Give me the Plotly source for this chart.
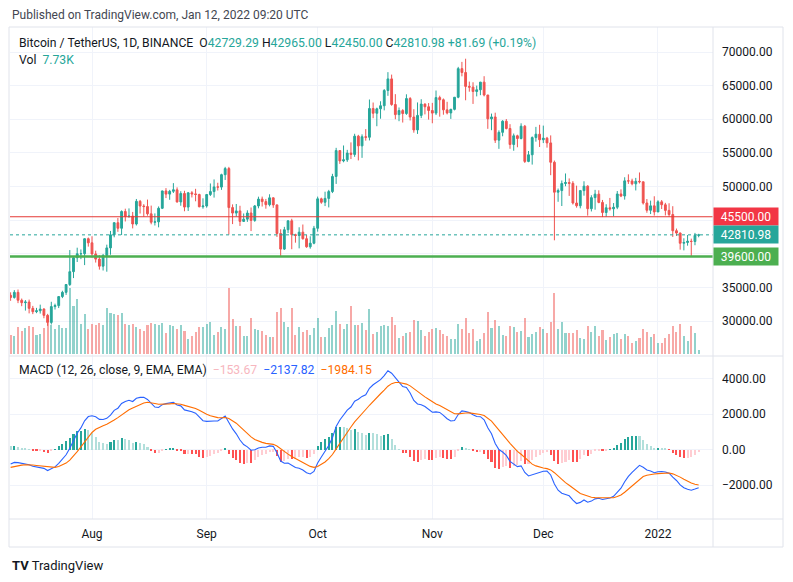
import pandas as pd
import plotly.graph_objects as go

# BTC/USDT daily candles, Binance, 10 Jul 2021 - 12 Jan 2022
start_date = "2021-07-10"
first_open = 33815.0

close = [
    # Jul 10-31
    33502, 34259, 33086, 32729, 32820, 31880, 31383, 31520, 31778, 30839, 29790,
    32144, 32287, 33634, 34258, 35426, 37337, 39406, 39995, 40008, 42235, 41626,
    # Aug
    39974, 39201, 38152, 39747, 40870, 42816, 44614, 43792, 46284, 45543,
    45595, 44428, 47793, 47097, 47019, 45937, 44687, 44742, 46763, 49340,
    48867, 49285, 49507, 47707, 48960, 46942, 49058, 48903, 48812, 46991, 47100,
    # Sep
    48811, 49247, 49940, 49914, 51757, 52663, 46864, 46049, 46369, 44814,
    45144, 46059, 44958, 47108, 48125, 47753, 47300, 48314, 47261, 43013,
    40694, 43574, 44896, 42840, 42716, 43208, 42236, 41034, 41564, 43791,
    # Oct
    48165, 47657, 48233, 49245, 51493, 55340, 53805, 53967, 54968, 54771,
    57484, 56041, 57401, 57321, 61593, 60892, 61553, 62009, 64280, 66001,
    62193, 60688, 61287, 60852, 63078, 60328, 58413, 60575, 62254, 61859, 61300,
    # Nov
    60911, 63219, 62896, 61395, 60937, 61470, 63273, 67525, 66947, 64882,
    64774, 64122, 64380, 65519, 63606, 60058, 60344, 56891, 58052, 59707,
    58622, 56247, 57541, 57138, 58960, 53726, 54721, 57274, 57776, 56950,
    # Dec
    57184, 56480, 53601, 49152, 49397, 50441, 50588, 50471, 47545, 47140,
    49389, 50053, 46702, 48343, 48864, 47632, 46131, 46834, 46681, 46914,
    48889, 48588, 50838, 50820, 50399, 50775, 50701, 47543, 46464, 47120, 46216,
    # Jan 1-12
    47722, 47286, 46446, 45833, 43425, 43082, 41566, 41679, 41864, 41822,
    42729.29, 42810.98,
]

high = [
    34262, 34590, 34678, 33340, 33114, 33185, 32249, 31950, 32435, 31899, 31063,
    32859, 32576, 33650, 34500, 35450, 40550, 39542, 40900, 40640, 42316, 42414,
    42599, 40459, 39780, 39969, 41350, 43392, 44700, 45310, 46454, 46700,
    46743, 46218, 48144, 48000, 47372, 48053, 47160, 46000, 47033, 49382,
    49757, 49500, 50500, 49868, 49300, 49365, 49185, 49309, 49655, 48925, 48246,
    48888, 50450, 51052, 50558, 51900, 52920, 52920, 47340, 47400, 47133,
    45987, 46460, 46876, 47250, 48486, 48500, 48150, 48843, 48372, 47328,
    43639, 44000, 44978, 45200, 42970, 43937, 44350, 42788, 42599, 44141,
    48495, 48336, 49228, 49500, 51886, 55750, 55332, 56100, 55450, 56561,
    57839, 57680, 57751, 58532, 62933, 62488, 61720, 62675, 64486, 67000,
    66639, 63732, 61750, 61500, 63710, 63293, 61496, 62499, 62980, 62359, 62405,
    62437, 64270, 63500, 63086, 62595, 61560, 63286, 67789, 68530, 69000,
    65600, 65500, 65000, 65550, 66401, 63617, 60840, 60976, 58351, 59859,
    60029, 59266, 57875, 57700, 59398, 59150, 55280, 57445, 58865, 59176,
    59053, 57375, 57600, 53859, 49699, 50891, 51936, 51200, 50796, 50125,
    49485, 50777, 50189, 48700, 49500, 49436, 48000, 47360, 48300, 47537,
    49328, 49576, 51375, 51810, 51156, 51280, 52088, 50704, 48139, 47900, 48548,
    47954, 47990, 47570, 47505, 47070, 43748, 43145, 42300, 42786, 42248,
    43100, 42965,
]

low = [
    33004, 33330, 32658, 32202, 31550, 31133, 31020, 31164, 31108, 30407, 29278,
    29482, 31708, 31924, 33401, 33881, 35205, 36383, 38772, 39200, 38313, 41064,
    39422, 38690, 37642, 37508, 37332, 39853, 42446, 43261, 42779, 44800,
    45341, 43770, 44203, 45979, 45500, 45660, 44376, 44203, 43927, 46646,
    48279, 48024, 49029, 47600, 47137, 46315, 46361, 48372, 47801, 46904, 46700,
    46853, 48584, 48350, 49400, 49500, 50969, 42843, 44412, 45514, 44135,
    44722, 44742, 43370, 44750, 46753, 47020, 46699, 47049, 46829, 42500,
    39600, 40565, 43069, 40675, 41646, 40803, 42098, 40888, 40753, 41410,
    43283, 47430, 47088, 46891, 49022, 50382, 53357, 53600, 53660, 54080,
    54415, 53879, 54258, 56818, 56850, 60150, 58963, 60077, 61322, 63481,
    62000, 60000, 59712, 59510, 60650, 59817, 58000, 57820, 60174, 60723, 59945,
    59405, 60624, 60382, 60677, 60721, 60050, 61322, 63125, 66382, 62822,
    64100, 62278, 63400, 63576, 63400, 58574, 58373, 56474, 55600, 57469,
    58486, 55610, 55317, 55837, 57000, 53500, 53610, 53256, 56666, 55875,
    56458, 55777, 51680, 42000, 47727, 47100, 50039, 48600, 47320, 46852,
    46751, 48638, 45672, 46290, 46547, 47511, 45456, 45500, 46406, 45558,
    46630, 48421, 48049, 50384, 50171, 49412, 50449, 47313, 46096, 45900, 45678,
    46208, 46654, 45696, 45502, 42500, 42645, 40610, 40501, 41200, 39650,
    41268, 42450,
]

# volume in thousands of BTC
volume_k = [
    43.7, 40.6, 61.4, 52.9, 59.1, 63.7, 62.1, 42.2, 45.3, 59.1, 69.8,
    66.7, 56.0, 65.2, 59.1, 59.1, 151.9, 109.7, 126.6, 69.0, 91.3, 57.5,
    68.3, 65.2, 70.6, 66.7, 105.1, 93.6, 90.5, 88.2, 93.6, 68.3,
    65.2, 68.3, 62.1, 56.8, 52.9, 66.7, 71.3, 68.3, 66.7, 70.6,
    47.6, 66.7, 64.4, 57.5, 65.2, 51.4, 33.7, 40.6, 49.9, 61.4, 62.1,
    68.3, 72.9, 43.7, 49.9, 62.1, 57.5, 151.0, 79.0, 63.7, 63.7,
    39.9, 40.6, 82.1, 56.8, 54.5, 51.4, 43.7, 38.4, 38.4, 95.9,
    105.1, 72.9, 61.4, 105.1, 43.7, 61.4, 49.9, 54.5, 43.7, 59.1,
    82.1, 38.4, 38.4, 59.1, 66.7, 98.2, 68.3, 56.8, 68.3, 109.7,
    66.7, 66.7, 70.6, 54.5, 102.8, 45.3, 49.9, 64.4, 66.0, 63.7,
    85.1, 66.7, 36.0, 40.6, 47.6, 49.9, 77.5, 75.9, 54.5, 40.6, 49.9,
    56.0, 59.1, 54.5, 45.3, 40.6, 33.7, 33.7, 68.3, 56.8, 82.1,
    47.6, 56.8, 29.1, 33.7, 47.6, 95.9, 59.1, 77.5, 63.7, 43.7,
    40.6, 63.7, 61.4, 49.9, 52.2, 82.1, 38.4, 45.3, 49.9, 61.4,
    56.8, 47.6, 72.9, 139.6, 56.8, 72.9, 47.6, 47.6, 47.6, 54.5,
    36.0, 33.7, 63.7, 49.9, 63.7, 40.6, 54.5, 31.4, 38.4, 45.3,
    47.6, 33.7, 45.3, 40.6, 24.5, 29.1, 36.0, 56.8, 49.9, 38.4, 45.3,
    24.5, 24.5, 36.0, 45.3, 63.7, 49.9, 68.3, 40.6, 29.1, 63.7,
    47.6, 7.73,
]

# horizontal levels drawn on the chart
resistance = 45500.0
support = 39600.0
last_price = 42810.98

# MACD(12, 26, 9) state just before the first candle (estimated from left edge)
ema12_seed = 33950.0
ema26_seed = 34780.0
signal_seed = -1045.0

month_ticks = ["2021-08-01", "2021-09-01", "2021-10-01", "2021-11-01", "2021-12-01", "2022-01-01"]
month_labels = ["Aug", "Sep", "Oct", "Nov", "Dec", "2022"]
price_ticks = [30000, 35000, 40000, 45000, 50000, 55000, 60000, 65000, 70000]
price_labels = ["30000.00", "35000.00", "", "", "50000.00", "55000.00", "60000.00", "65000.00", "70000.00"]
macd_ticks = [-2000, 0, 2000, 4000]
macd_labels = ["\u22122000.00", "0.00", "2000.00", "4000.00"]

UP = "#26a69a"
DOWN = "#ef5350"
TEXT = "#131722"
GRID = "#f0f3fa"
BORDER = "#e0e3eb"

days = pd.date_range(start_date, periods=len(close), freq="D")
opens = [first_open] + close[:-1]

# macd from closes
a12, a26, a9 = 2 / 13, 2 / 27, 2 / 10
e12, e26, sig = ema12_seed, ema26_seed, signal_seed
macd, signal = [], []
for c in close:
    e12 += a12 * (c - e12)
    e26 += a26 * (c - e26)
    m = e12 - e26
    sig += a9 * (m - sig)
    macd.append(m)
    signal.append(sig)
hist = [m - s for m, s in zip(macd, signal)]

hist_colors = []
prev = hist[0]
for h in hist:
    if h >= 0:
        hist_colors.append("#26a69a" if h > prev else "#b2dfdb")
    else:
        hist_colors.append("#ffcdd2" if h > prev else "#ff5252")
    prev = h

vol_colors = ["rgba(38,166,154,0.5)" if c >= o else "rgba(239,83,80,0.5)" for o, c in zip(opens, close)]

# page geometry (pixels)
W, H = 793, 582
L, R, T, B = 10, 80, 27, 63
PW, PH = W - L - R, H - T - B


def px(x):
    return (x - L) / PW


def py(y):
    return (H - B - y) / PH


split = py(356)
day_ms = 86400000

fig = go.Figure()

fig.add_trace(go.Bar(
    x=days, y=volume_k, marker=dict(color=vol_colors, line=dict(width=0)),
    width=0.55 * day_ms, xaxis="x", yaxis="y", hoverinfo="skip",
))

fig.add_trace(go.Candlestick(
    x=days, open=opens, high=high, low=low, close=close,
    increasing=dict(line=dict(color=UP, width=1), fillcolor=UP),
    decreasing=dict(line=dict(color=DOWN, width=1), fillcolor=DOWN),
    whiskerwidth=0, xaxis="x", yaxis="y3",
))

fig.add_trace(go.Bar(
    x=days, y=hist, marker=dict(color=hist_colors, line=dict(width=0)),
    width=0.55 * day_ms, xaxis="x2", yaxis="y2", hoverinfo="skip",
))
fig.add_trace(go.Scatter(
    x=days, y=macd, mode="lines", line=dict(color="#2962ff", width=1.1),
    xaxis="x2", yaxis="y2",
))
fig.add_trace(go.Scatter(
    x=days, y=signal, mode="lines", line=dict(color="#ff6d00", width=1.1),
    xaxis="x2", yaxis="y2",
))

x_range = ["2021-07-09 20:00", "2022-01-15 21:00"]
shapes = [
    # level lines
    dict(type="line", xref="paper", yref="y3", x0=0, x1=1, y0=resistance, y1=resistance,
         line=dict(color="#e53935", width=1)),
    dict(type="line", xref="paper", yref="y3", x0=0, x1=1, y0=support, y1=support,
         line=dict(color="#4caf50", width=2.5)),
    dict(type="line", xref="paper", yref="y3", x0=0, x1=1, y0=last_price, y1=last_price,
         line=dict(color=UP, width=1, dash="dot")),
    # frame and separators
    dict(type="rect", xref="paper", yref="paper", x0=px(9), x1=px(783), y0=py(547), y1=py(27),
         line=dict(color=BORDER, width=1)),
    dict(type="line", xref="paper", yref="paper", x0=1, x1=1, y0=py(547), y1=py(27),
         line=dict(color=BORDER, width=1)),
    dict(type="line", xref="paper", yref="paper", x0=px(9), x1=px(783), y0=split, y1=split,
         line=dict(color=BORDER, width=1)),
    dict(type="line", xref="paper", yref="paper", x0=px(9), x1=px(783), y0=0, y1=0,
         line=dict(color=BORDER, width=1)),
]

teal = "<span style='color:#26a69a'>%s</span>"
header = ("Bitcoin / TetherUS, 1D, BINANCE&nbsp;&nbsp;O" + teal % "42729.29"
          + " H" + teal % "42965.00" + " L" + teal % "42450.00"
          + " C" + teal % "42810.98" + " " + teal % "+81.69 (+0.19%)")
macd_header = ("MACD (12, 26, close, 9, EMA, EMA)&nbsp;&nbsp;"
               "<span style='color:#f7b6be'>\u2212153.67</span>&nbsp;&nbsp;"
               "<span style='color:#2962ff'>\u22122137.82</span>&nbsp;&nbsp;"
               "<span style='color:#ff6d00'>\u22121984.15</span>")

annotations = [
    dict(text="Published on TradingView.com, Jan 12, 2022 09:20 UTC", x=px(10), y=py(15),
         font=dict(size=12, color="#434651")),
    dict(text=header, x=px(17), y=py(43), font=dict(size=12.2, color=TEXT)),
    dict(text="Vol&nbsp;&nbsp;" + teal % "7.73K", x=px(17), y=py(60), font=dict(size=12.2, color=TEXT)),
    dict(text=macd_header, x=px(17), y=py(370), font=dict(size=12.2, color=TEXT)),
    dict(text="<b>TV</b> TradingView", x=px(10), y=py(565), font=dict(size=13, color=TEXT)),
]
for val, col in [(resistance, "#f23645"), (last_price, "#26a69a"), (support, "#4caf50")]:
    annotations.append(dict(
        text="%.2f" % val, xref="paper", yref="y3", x=1, y=val, xanchor="left", yanchor="middle",
        showarrow=False, bgcolor=col, font=dict(size=12, color="white"), width=62, height=15,
        borderpad=1, align="center",
    ))
for a in annotations:
    a.setdefault("xref", "paper")
    a.setdefault("yref", "paper")
    a.setdefault("xanchor", "left")
    a.setdefault("yanchor", "middle")
    a.setdefault("showarrow", False)

fig.update_layout(
    width=W, height=H,
    margin=dict(l=L, r=R, t=T, b=B),
    paper_bgcolor="white", plot_bgcolor="white",
    font=dict(family="Roboto, 'Liberation Sans', sans-serif", size=12, color=TEXT),
    showlegend=False,
    bargap=0,
    xaxis=dict(
        domain=[0, 1], anchor="y", type="date", range=x_range, matches="x2",
        tickvals=month_ticks, showticklabels=False, showgrid=True, gridcolor=GRID,
        zeroline=False, rangeslider=dict(visible=False), showline=False,
    ),
    yaxis=dict(domain=[split, 1], range=[-5.3, 751.4], visible=False, fixedrange=True),
    yaxis3=dict(
        overlaying="y", side="right", anchor="x", range=[24796, 73717],
        tickvals=price_ticks, ticktext=price_labels, showgrid=True, gridcolor=GRID,
        zeroline=False, ticks="", ticklabelstandoff=8, tickfont=dict(size=12, color=TEXT),
    ),
    xaxis2=dict(
        domain=[0, 1], anchor="y2", type="date", range=x_range,
        tickvals=month_ticks, ticktext=month_labels, showgrid=True, gridcolor=GRID,
        zeroline=False, ticks="", ticklabelstandoff=6, tickfont=dict(size=12, color=TEXT),
        showline=False,
    ),
    yaxis2=dict(
        domain=[0, split], anchor="x2", side="right", range=[-3904, 5279],
        tickvals=macd_ticks, ticktext=macd_labels, showgrid=True, gridcolor=GRID,
        zeroline=False, ticks="", ticklabelstandoff=8, tickfont=dict(size=12, color=TEXT),
    ),
    shapes=shapes,
    annotations=annotations,
)

# the page's default body margin would push the figure 8px right/down
fig.write_html("out.html", config={"displayModeBar": False},
               post_script="document.body.style.margin='0';")
